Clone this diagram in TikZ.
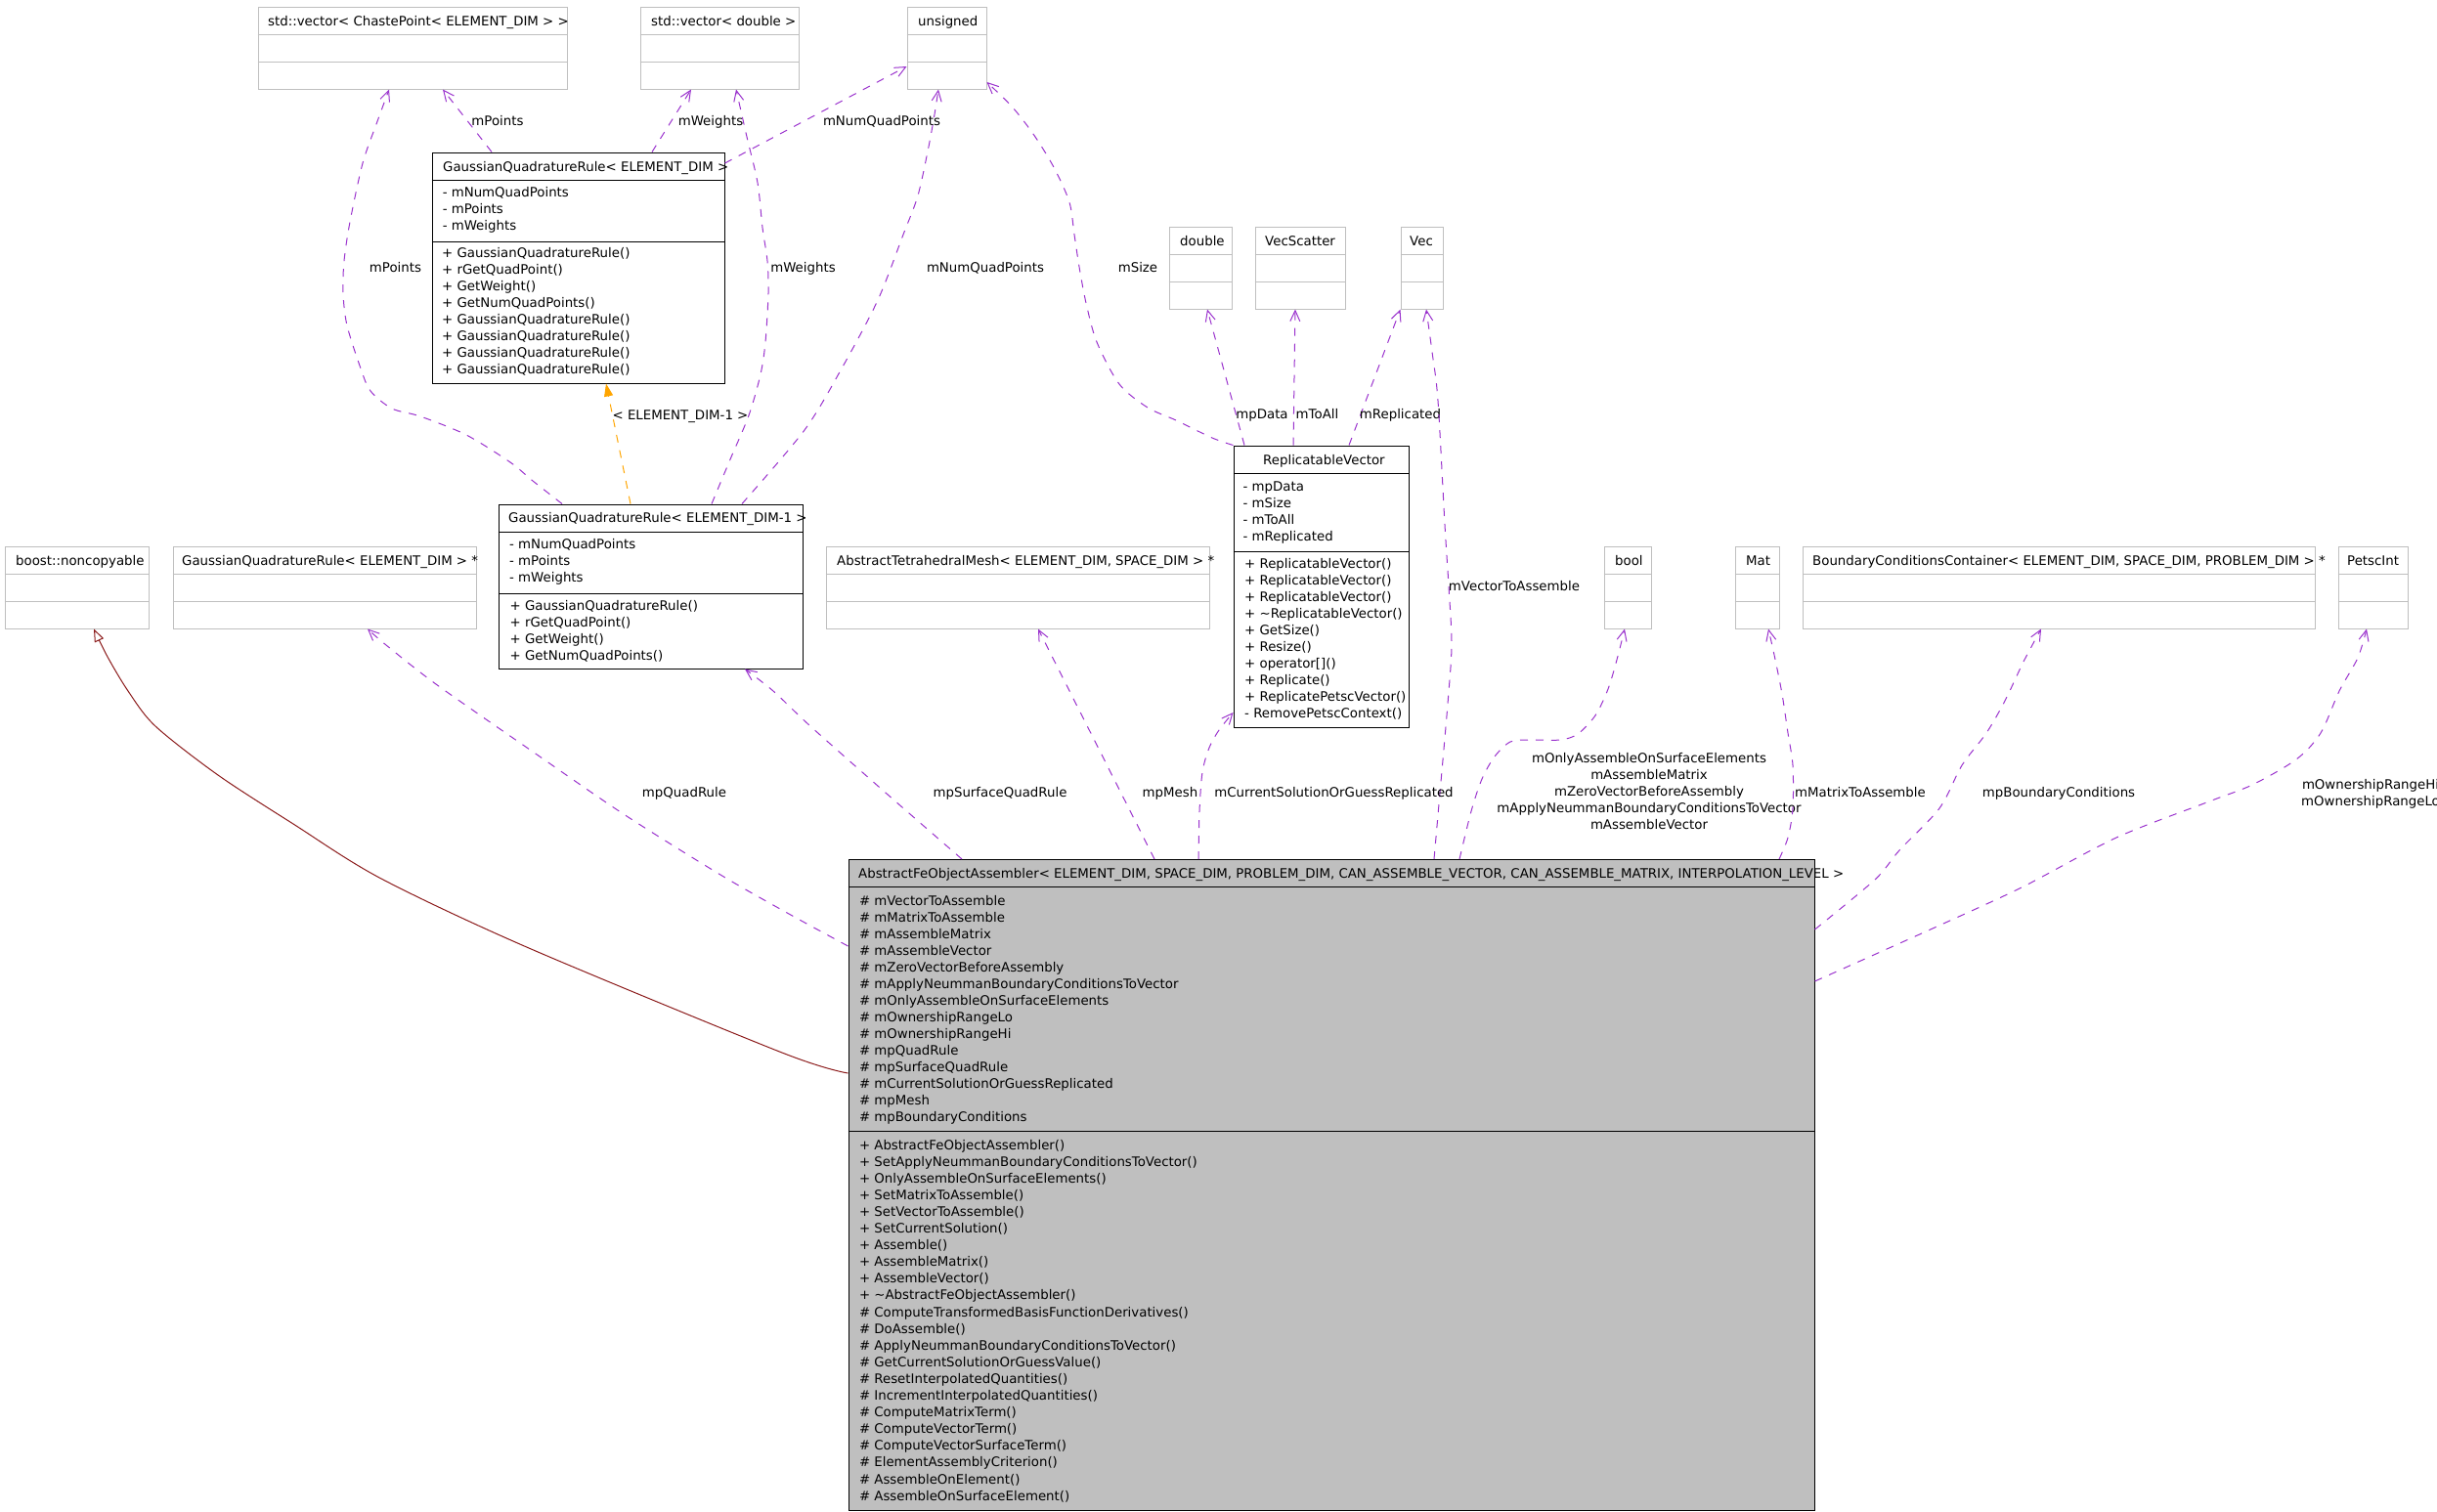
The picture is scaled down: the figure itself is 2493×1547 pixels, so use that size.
\documentclass[tikz,border=0pt]{standalone}
\usepackage{fontspec}
\setmainfont{DejaVu Sans}
\usetikzlibrary{arrows.meta,fit}
\definecolor{usecol}{HTML}{9A32CD}
\definecolor{inhcol}{HTML}{8B1A1A}
\definecolor{tplcol}{HTML}{FFA500}
\definecolor{extcol}{HTML}{BFBFBF}
\definecolor{affill}{HTML}{BFBFBF}
\newcommand\dfont{\fontsize{13.33}{17}\selectfont}
\newcommand\extclass[6]{%
  \node[extnode, fit={(#2,#3) (#4,#3+84)}] (#1) {};
  \draw[extcol, line width=1pt] (#1.west |- 0,#3+28) -- (#1.east |- 0,#3+28)
                                (#1.west |- 0,#3+56) -- (#1.east |- 0,#3+56);
  \node[txt] (#1-h) at (#5,#3+19) {#6};}
\newcommand\classlines[5]{%
  \foreach \t [count=\i from 0] in {#5} \node[txt] (#1\i) at (#2,#3+5+#4*\i) {\t};}
\begin{document}
\begin{tikzpicture}[x=1pt,y=-1pt,
  extnode/.style={draw=extcol, line width=1pt, inner sep=0pt},
  clsnode/.style={draw=black, line width=1pt, inner sep=0pt},
  clsline/.style={draw=black, line width=1pt},
  txt/.style={inner sep=0pt, anchor=base west, font=\dfont},
  lbl/.style={inner sep=0pt, anchor=base, font=\dfont},
  mlbl/.style={inner sep=0pt, anchor=center, font=\dfont, align=center},
  usage/.style={draw=usecol, line width=1pt, dash pattern=on 8pt off 8pt,
    -{Straight Barb[length=11pt,width=10pt,line width=1pt]}},
  tmpl/.style={draw=tplcol, line width=1pt, dash pattern=on 8pt off 8pt,
    -{Triangle[length=13pt,width=9pt,fill=tplcol]}},
  inh/.style={draw=inhcol, line width=1pt,
    -{Triangle[open,length=13pt,width=10pt,fill=white]}}
]
\useasboundingbox (0,0) rectangle (2493,1547);
\clip (0,0) rectangle (2493,1547);

% ---------- external (grey) classes ----------
\extclass{cpvec}{264}{7}{580}{274}{std::vector< ChastePoint< ELEMENT\_DIM > >}
\extclass{dblvec}{655}{7}{817}{666}{std::vector< double >}
\extclass{unsigned}{928}{7}{1009}{939}{unsigned}
\extclass{double}{1196}{232}{1260}{1207}{double}
\extclass{vecscatter}{1284}{232}{1376}{1294}{VecScatter}
\extclass{vec}{1433}{232}{1476}{1442}{Vec}
\extclass{noncopy}{5}{559}{152}{16}{boost::noncopyable}
\extclass{gqrptr}{177}{559}{487}{186}{GaussianQuadratureRule< ELEMENT\_DIM > *}
\extclass{mesh}{845}{559}{1237}{856}{AbstractTetrahedralMesh< ELEMENT\_DIM, SPACE\_DIM > *}
\extclass{bool}{1641}{559}{1689}{1652}{bool}
\extclass{mat}{1775}{559}{1820}{1786}{Mat}
\extclass{bcc}{1844}{559}{2368}{1854}{BoundaryConditionsContainer< ELEMENT\_DIM, SPACE\_DIM, PROBLEM\_DIM > *}
\extclass{petsc}{2392}{559}{2463}{2401}{PetscInt}

% ---------- GaussianQuadratureRule< ELEMENT_DIM > ----------
\node[clsnode, fit={(442,156) (741,392)}] (gqr) {};
\draw[clsline] (gqr.west |- 0,184) -- (gqr.east |- 0,184)
               (gqr.west |- 0,247) -- (gqr.east |- 0,247);
\node[txt] (gqr-h) at (453,175) {GaussianQuadratureRule< ELEMENT\_DIM >};
\classlines{gqr-a}{452.6}{196.7}{17}{- mNumQuadPoints, - mPoints, - mWeights}
\classlines{gqr-m}{452}{258.3}{17}{+ GaussianQuadratureRule(), + rGetQuadPoint(), + GetWeight(), + GetNumQuadPoints(), + GaussianQuadratureRule(), + GaussianQuadratureRule(), + GaussianQuadratureRule(), + GaussianQuadratureRule()}

% ---------- GaussianQuadratureRule< ELEMENT_DIM-1 > ----------
\node[clsnode, fit={(510,516) (821,684)}] (gqr1) {};
\draw[clsline] (gqr1.west |- 0,544) -- (gqr1.east |- 0,544)
               (gqr1.west |- 0,607) -- (gqr1.east |- 0,607);
\node[txt] (gqr1-h) at (520,534.7) {GaussianQuadratureRule< ELEMENT\_DIM-1 >};
\classlines{gqr1-a}{521}{556.7}{17}{- mNumQuadPoints, - mPoints, - mWeights}
\classlines{gqr1-m}{521.5}{619}{17.2}{+ GaussianQuadratureRule(), + rGetQuadPoint(), + GetWeight(), + GetNumQuadPoints()}

% ---------- ReplicatableVector ----------
\node[clsnode, fit={(1262,456) (1441,744)}] (rv) {};
\draw[clsline] (rv.west |- 0,484) -- (rv.east |- 0,484)
               (rv.west |- 0,564) -- (rv.east |- 0,564);
\node[txt] (rv-h) at (1292,475.6) {ReplicatableVector};
\classlines{rv-a}{1271.4}{497.7}{17}{- mpData, - mSize, - mToAll, - mReplicated}
\classlines{rv-m}{1273}{576.6}{17}{+ ReplicatableVector(), + ReplicatableVector(), + ReplicatableVector(), + \textasciitilde ReplicatableVector(), + GetSize(), + Resize(), + operator[](), + Replicate(), + ReplicatePetscVector(), - RemovePetscContext()}

% ---------- AbstractFeObjectAssembler ----------
\node[clsnode, fill=affill, fit={(868,879.5) (1856,1545)}] (af) {};
\draw[clsline] (af.west |- 0,907) -- (af.east |- 0,907)
               (af.west |- 0,1157.6) -- (af.east |- 0,1157.6);
\node[txt] (af-h) at (878,898) {AbstractFeObjectAssembler< ELEMENT\_DIM, SPACE\_DIM, PROBLEM\_DIM, CAN\_ASSEMBLE\_VECTOR, CAN\_ASSEMBLE\_MATRIX, INTERPOLATION\_LEVEL >};
\classlines{af-a}{878.8}{921}{17}{\# mVectorToAssemble, \# mMatrixToAssemble, \# mAssembleMatrix, \# mAssembleVector, \# mZeroVectorBeforeAssembly, \# mApplyNeummanBoundaryConditionsToVector, \# mOnlyAssembleOnSurfaceElements, \# mOwnershipRangeLo, \# mOwnershipRangeHi, \# mpQuadRule, \# mpSurfaceQuadRule, \# mCurrentSolutionOrGuessReplicated, \# mpMesh, \# mpBoundaryConditions}
\classlines{af-m}{878.8}{1171}{17.1}{+ AbstractFeObjectAssembler(), + SetApplyNeummanBoundaryConditionsToVector(), + OnlyAssembleOnSurfaceElements(), + SetMatrixToAssemble(), + SetVectorToAssemble(), + SetCurrentSolution(), + Assemble(), + AssembleMatrix(), + AssembleVector(), + \textasciitilde AbstractFeObjectAssembler(), \# ComputeTransformedBasisFunctionDerivatives(), \# DoAssemble(), \# ApplyNeummanBoundaryConditionsToVector(), \# GetCurrentSolutionOrGuessValue(), \# ResetInterpolatedQuantities(), \# IncrementInterpolatedQuantities(), \# ComputeMatrixTerm(), \# ComputeVectorTerm(), \# ComputeVectorSurfaceTerm(), \# ElementAssemblyCriterion(), \# AssembleOnElement(), \# AssembleOnSurfaceElement()}

% ---------- connectors ----------
\draw[usage] (503,0 |- gqr.north) -- (453,0 |- cpvec.south);
\node[lbl] (l-a) at (509,128) {mPoints};
\draw[usage] (667,0 |- gqr.north) -- (707,0 |- dblvec.south);
\node[lbl] (l-b) at (727,128) {mWeights};
\draw[usage] (gqr.east |- 0,167) -- (unsigned.west |- 0,68);
\node[lbl] (l-c) at (902,128) {mNumQuadPoints};

\draw[tmpl] (645,0 |- gqr1.north) -- (620,0 |- gqr.south);
\node[lbl] (l-d) at (696,429) {< ELEMENT\_DIM-1 >};

\draw[usage] plot[smooth] coordinates {(575,0 |- gqr1.north) (545,492) (522,473) (477,445) (430,426) (401,418) (379,400) (369,377) (355,333) (351,300) (352,267) (358,227) (371,167) (385,127) (398,0 |- cpvec.south)};
\node[lbl] (l-e) at (404.5,278) {mPoints};

\draw[usage] plot[smooth] coordinates {(728,0 |- gqr1.north) (747,470) (766,425) (778,383) (783,350) (786,300) (785,267) (780,233) (775,187) (764,140) (753,0 |- dblvec.south)};
\node[lbl] (l-f) at (821.5,278) {mWeights};

\draw[usage] plot[smooth] coordinates {(759,0 |- gqr1.north) (823,440) (861,377) (898,307) (924,240) (939,200) (950,150) (956,117) (960,0 |- unsigned.south)};
\node[lbl] (l-g) at (1008,278) {mNumQuadPoints};

\draw[usage] plot[smooth] coordinates {(rv.north west) (1240,448) (1203,430) (1174,417) (1145,393) (1122,350) (1111,310) (1104,273) (1099,240) (1094,207) (1079,173) (1059,140) (1036,110) (unsigned.east |- 0,84)};
\node[lbl] (l-h) at (1164,278) {mSize};

\draw[usage] (1273,0 |- rv.north) -- (1235,0 |- double.south);
\node[lbl] (l-i) at (1291,428) {mpData};
\draw[usage] (1323,0 |- rv.north) -- (1325,0 |- vecscatter.south);
\node[lbl] (l-j) at (1347.5,428) {mToAll};
\draw[usage] (1380,0 |- rv.north) -- (vec.south west);
\node[lbl] (l-k) at (1432.5,428) {mReplicated};

\draw[usage] plot[smooth] coordinates {(1467,0 |- af.north) (1474,800) (1481,720) (1485,660) (1482,600) (1478,537) (1471,410) (1465,360) (1459,0 |- vec.south)};
\node[lbl] (l-l) at (1549,604) {mVectorToAssemble};

\draw[usage] plot[smooth] coordinates {(1493,0 |- af.north) (1505,830) (1516,797) (1529,774) (1545,759) (1565,757) (1596,757) (1614,751) (1632,732) (1645,705) (1654,675) (1662,0 |- bool.south)};
\node[mlbl] (l-m) at (1687,810) {mOnlyAssembleOnSurfaceElements\\mAssembleMatrix\\mZeroVectorBeforeAssembly\\mApplyNeummanBoundaryConditionsToVector\\mAssembleVector};

\draw[usage] plot[smooth] coordinates {(1820,0 |- af.north) (1829,857) (1834,827) (1834,783) (1829,750) (1823,710) (1815,670) (1809,0 |- mat.south)};
\node[lbl] (l-n) at (1903,815) {mMatrixToAssemble};

\draw[usage] plot[smooth] coordinates {(af.east |- 0,951) (1918,900) (1943,870) (1984,827) (2007,783) (2032,750) (2051,717) (2070,677) (2088,0 |- bcc.south)};
\node[lbl] (l-o) at (2106,815) {mpBoundaryConditions};

\draw[usage] plot[smooth] coordinates {(af.east |- 0,1004) (1988,945) (2070,907) (2165,857) (2260,820) (2304,803) (2349,777) (2374,750) (2393,707) (2412,673) (2421,0 |- petsc.south)};
\node[mlbl] (l-p) at (2425,812) {mOwnershipRangeHi\\mOwnershipRangeLo};

\draw[usage] plot[smooth] coordinates {(af.west |- 0,968) (807,935) (737,895) (638,833) (542,767) (446,700) (395,660) (376,0 |- gqrptr.south)};
\node[lbl] (l-q) at (700,815) {mpQuadRule};

\draw[usage] plot[smooth] coordinates {(984,0 |- af.north) (907,812) (829,743) (791,707) (762,0 |- gqr1.south)};
\node[lbl] (l-r) at (1023,815) {mpSurfaceQuadRule};

\draw[usage] (1181,0 |- af.north) -- (1062,0 |- mesh.south);
\node[lbl] (l-s) at (1197,815) {mpMesh};

\draw[usage] plot[smooth] coordinates {(1226,0 |- af.north) (1227,830) (1230,790) (1237,765) (1247,747) (rv.west |- 0,729)};
\node[lbl] (l-t) at (1364.5,815) {mCurrentSolutionOrGuessReplicated};

\draw[inh] plot[smooth] coordinates {(af.west |- 0,1098) (800,1077) (541,970) (390,899) (300,843) (223,793) (159,743) (131,707) (110,672) (96,0 |- noncopy.south)};
\end{tikzpicture}
\end{document}
